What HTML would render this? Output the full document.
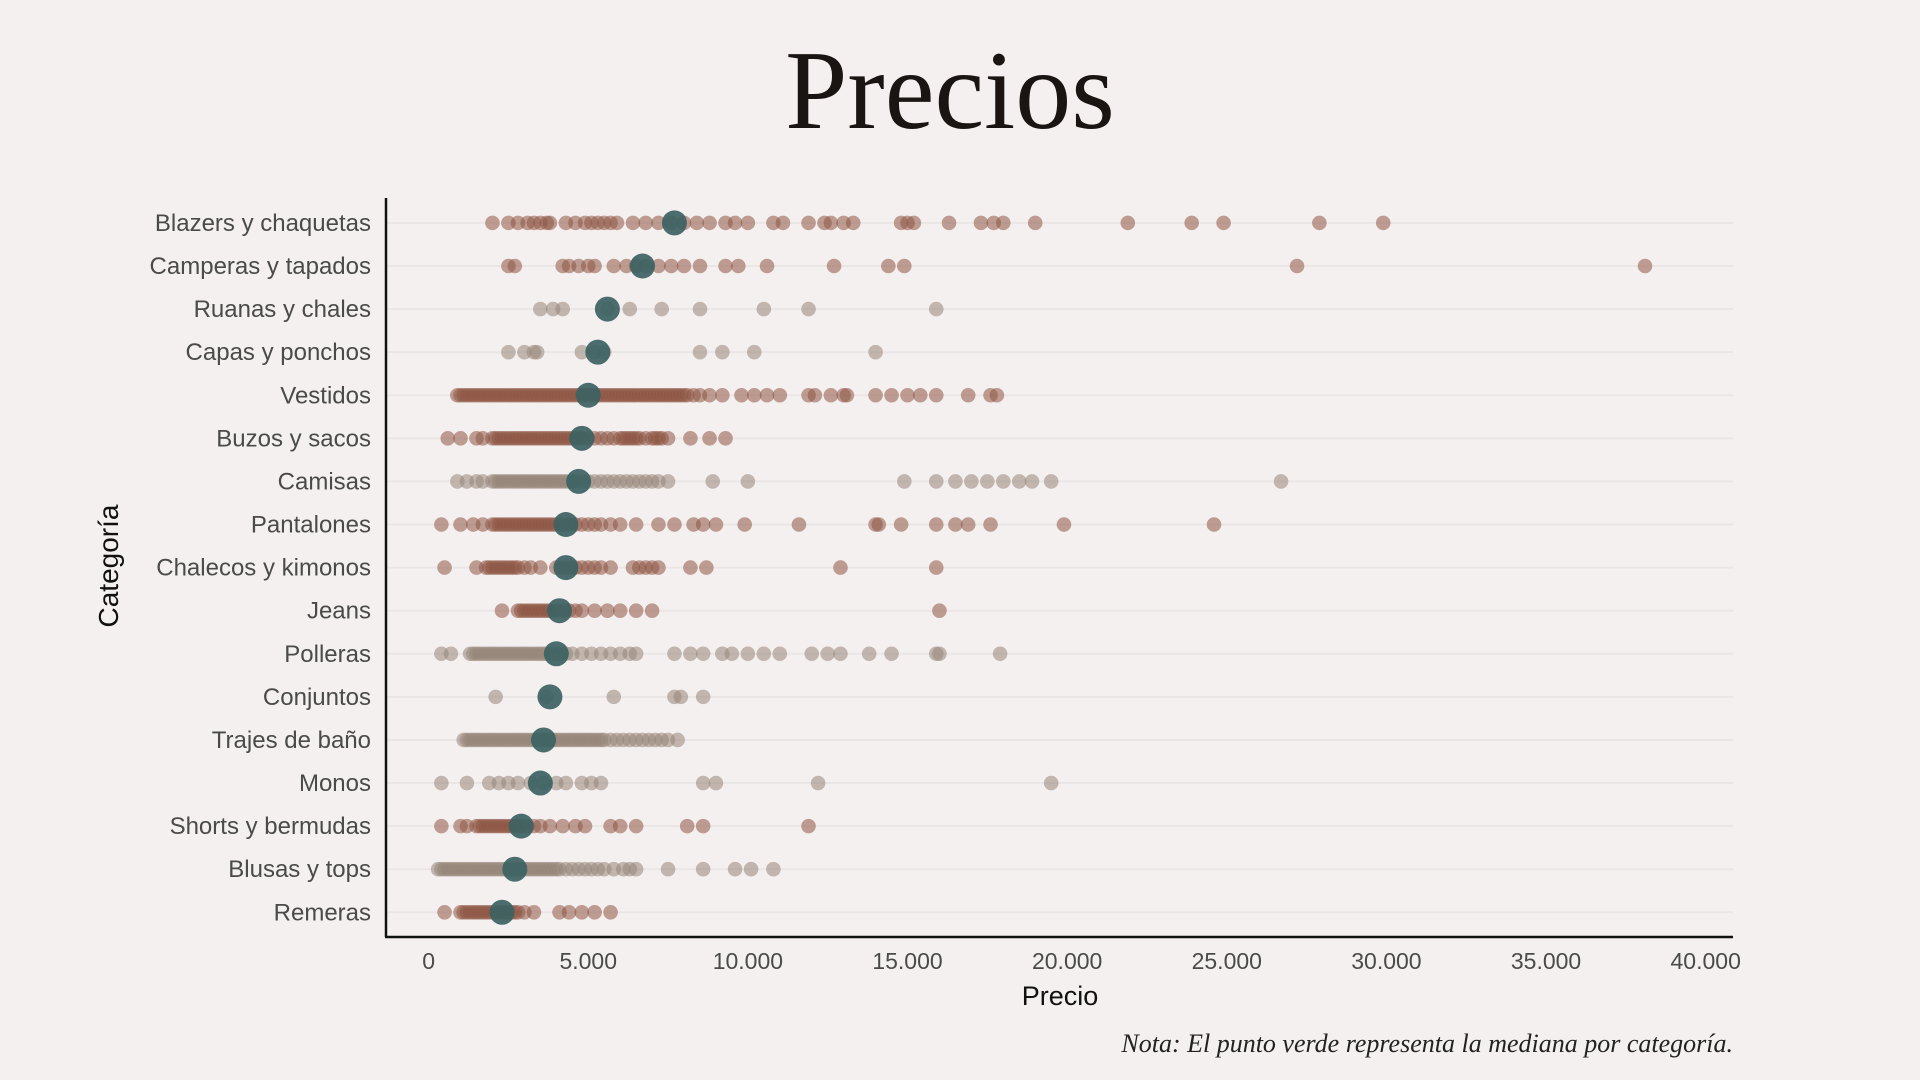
<!DOCTYPE html>
<html><head><meta charset="utf-8"><style>
html,body{margin:0;padding:0;background:#f5f0f0;}
svg{display:block;}
</style></head><body>
<svg id="chart" width="1920" height="1080" xmlns="http://www.w3.org/2000/svg">
<rect width="1920" height="1080" fill="#f5f0f0"/>
<text x="950" y="128" text-anchor="middle" font-family="Liberation Serif, serif" font-size="112" fill="#1a1512">Precios</text>
<g id="grid"></g><g id="points"></g><g id="medians"></g><g id="labels"></g>
<line x1="386" y1="198" x2="386" y2="937" stroke="#111" stroke-width="2.5"/>
<line x1="385" y1="937" x2="1733" y2="937" stroke="#111" stroke-width="2.5"/>
<text x="1060" y="1005" text-anchor="middle" font-family="Liberation Sans, sans-serif" font-size="27" fill="#111">Precio</text>
<text transform="translate(118,566) rotate(-90)" text-anchor="middle" font-family="Liberation Sans, sans-serif" font-size="28" fill="#111">Categoría</text>
<text x="1733" y="1052" text-anchor="end" font-family="Liberation Serif, serif" font-style="italic" font-size="26" fill="#222">Nota: El punto verde representa la mediana por categoría.</text>
</svg>
<script>
const categories=["Blazers y chaquetas","Camperas y tapados","Ruanas y chales","Capas y ponchos","Vestidos","Buzos y sacos","Camisas","Pantalones","Chalecos y kimonos","Jeans","Polleras","Conjuntos","Trajes de baño","Monos","Shorts y bermudas","Blusas y tops","Remeras"];
const highlight=[1,1,0,0,1,1,0,1,1,1,0,0,0,0,1,0,1];
const medians=[7700,6700,5600,5300,5000,4800,4700,4300,4300,4100,4000,3800,3600,3500,2900,2700,2300];
const xTicks=[0,5000,10000,15000,20000,25000,30000,35000,40000];
const xTickLabels=["0","5.000","10.000","15.000","20.000","25.000","30.000","35.000","40.000"];
const p0=[2000,2500,2800,3100,3300,3500,3700,3800,4300,4600,4900,5100,5300,5500,5700,5900,6400,6800,7200,7600,8000,8400,8800,9300,9600,10000,10800,11100,11900,12400,12600,13000,13300,14800,15000,15200,16300,17300,17700,18000,19000,21900,23900,24900,27900,29900];
const p1=[2500,2700,4200,4400,4700,5000,5200,5800,6200,6500,6800,7200,7600,8000,8500,9300,9700,10600,12700,14400,14900,27200,38100];
const p2=[3500,3900,4200,5600,6300,7300,8500,10500,11900,15900];
const p3=[2500,3000,3300,3400,4800,5200,5500,8500,9200,10200,14000];
const p4=[900,1000,1100,1200,1300,1400,1500,1600,1700,1800,1900,2000,2100,2200,2300,2400,2500,2600,2700,2800,2900,3000,3100,3200,3300,3400,3500,3600,3700,3800,3900,4000,4100,4200,4300,4400,4500,4600,4700,4800,4900,5000,5100,5200,5300,5400,5500,5600,5700,5800,5900,6000,6100,6200,6300,6400,6500,6600,6700,6800,6900,7000,7100,7200,7300,7400,7500,7600,7700,7800,7900,8000,8100,8300,8500,8800,9200,9800,10200,10600,11000,11900,12100,12600,13000,13100,14000,14500,15000,15400,15900,16900,17600,17800];
const p5=[600,1000,1500,1700,2000,2100,2200,2300,2400,2500,2600,2700,2800,2900,3000,3100,3200,3300,3400,3500,3600,3700,3800,3900,4000,4100,4200,4300,4400,4500,4600,4700,4800,5000,5200,5400,5600,5800,6000,6100,6200,6300,6400,6500,6600,6800,7000,7100,7200,7300,7500,8200,8800,9300];
const p6=[900,1200,1500,1700,2000,2100,2200,2300,2400,2500,2600,2700,2800,2900,3000,3100,3200,3300,3400,3500,3600,3700,3800,3900,4000,4100,4200,4300,4400,4500,4600,4800,5000,5200,5400,5600,5800,6000,6200,6400,6600,6800,7000,7200,7500,8900,10000,14900,15900,16500,17000,17500,18000,18500,18900,19500,26700];
const p7=[400,1000,1400,1700,2000,2100,2200,2300,2400,2500,2600,2700,2800,2900,3000,3100,3200,3300,3400,3500,3600,3700,3800,3900,4000,4200,4400,4600,4800,5000,5200,5400,5700,6000,6500,7200,7700,8300,8600,9000,9900,11600,14000,14100,14800,15900,16500,16900,17600,19900,24600];
const p8=[500,1500,1800,1900,2000,2100,2200,2300,2400,2500,2600,2700,2800,3000,3200,3500,4000,4200,4400,4600,4800,5000,5200,5400,5700,6400,6600,6800,7000,7200,8200,8700,12900,15900];
const p9=[2300,2800,2900,3000,3100,3200,3300,3400,3500,3600,3700,3800,4000,4200,4400,4600,4800,5200,5600,6000,6500,7000,16000];
const p10=[400,700,1300,1400,1500,1600,1700,1800,1900,2000,2100,2200,2300,2400,2500,2600,2700,2800,2900,3000,3100,3200,3300,3400,3500,3600,3700,3900,4100,4300,4500,4800,5100,5400,5700,6000,6300,6500,7700,8200,8600,9200,9500,10000,10500,11000,12000,12500,12900,13800,14500,15900,16000,17900];
const p11=[2100,3700,5800,7700,7900,8600];
const p12=[1100,1200,1300,1400,1500,1600,1700,1800,1900,2000,2100,2200,2300,2400,2500,2600,2700,2800,2900,3000,3100,3200,3300,3400,3500,3600,3700,3800,3900,4000,4100,4200,4300,4400,4500,4600,4700,4800,4900,5000,5100,5200,5300,5400,5500,5700,5900,6100,6300,6500,6700,6900,7100,7300,7500,7800];
const p13=[400,1200,1900,2200,2500,2800,3200,3600,4000,4300,4800,5100,5400,8600,9000,12200,19500];
const p14=[400,1000,1200,1500,1600,1700,1800,1900,2000,2100,2200,2300,2400,2500,2600,2700,2800,2900,3100,3300,3500,3800,4200,4600,4900,5700,6000,6500,8100,8600,11900];
const p15=[300,400,500,600,700,800,900,1000,1100,1200,1300,1400,1500,1600,1700,1800,1900,2000,2100,2200,2300,2400,2500,2600,2700,2800,2900,3000,3100,3200,3300,3400,3500,3600,3700,3800,3900,4000,4100,4300,4500,4700,4900,5100,5300,5500,5800,6100,6300,6500,7500,8600,9600,10100,10800];
const p16=[500,1000,1100,1200,1300,1400,1500,1600,1700,1800,1900,2000,2100,2200,2300,2400,2500,2600,2700,2800,3000,3300,4100,4400,4800,5200,5700];
const series=[p0,p1,p2,p3,p4,p5,p6,p7,p8,p9,p10,p11,p12,p13,p14,p15,p16];

const NS="http://www.w3.org/2000/svg";
const X0=428.6,X1=1705.7,XMAX=40000,Y0=222.9,Y1=912.3;
function xs(v){return X0+(X1-X0)*v/XMAX;}
function ys(i){return Y0+(Y1-Y0)*i/(categories.length-1);}
function mk(t,a){const e=document.createElementNS(NS,t);for(const k in a)e.setAttribute(k,a[k]);return e;}
const grid=document.getElementById('grid'),pts=document.getElementById('points'),med=document.getElementById('medians'),lab=document.getElementById('labels');
categories.forEach((c,i)=>{
  const y=ys(i);
  const g=mk('line',{x1:387,x2:1733,y1:y,y2:y,stroke:'#ebe6e6','stroke-width':2});
  
  
  grid.appendChild(g);
  const t=mk('text',{x:371,y:y+8,'text-anchor':'end','font-family':'Liberation Sans, sans-serif','font-size':24,fill:'#4a4a4a'});
  t.textContent=c;
  
  
  lab.appendChild(t);
  const col=highlight[i]?'#8e5644':'#958579';
  series[i].forEach(v=>{
    const p=mk('circle',{cx:xs(v),cy:y,r:7.3,fill:col,'fill-opacity':0.55});
    
    
    pts.appendChild(p);
  });
  const m=mk('circle',{cx:xs(medians[i]),cy:y,r:12.5,fill:'#3c6262','fill-opacity':0.92});
  
  
  med.appendChild(m);
});
xTicks.forEach((v,i)=>{
  const t=mk('text',{x:xs(v),y:969,'text-anchor':'middle','font-family':'Liberation Sans, sans-serif','font-size':23,fill:'#4a4a4a'});
  t.textContent=xTickLabels[i];
  
  
  lab.appendChild(t);
});
</script>
</body></html>
